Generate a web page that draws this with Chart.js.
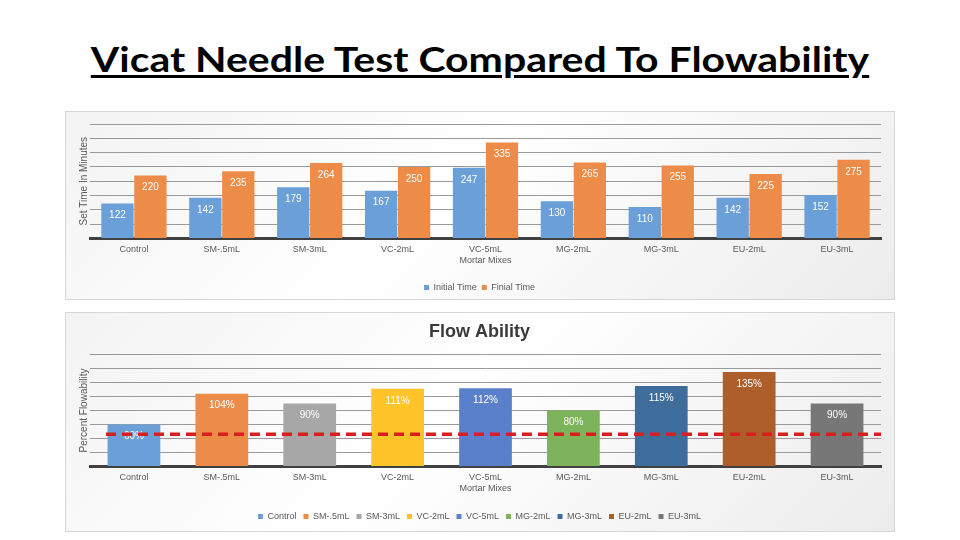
<!DOCTYPE html>
<html>
<head>
<meta charset="utf-8">
<script src="https://cdn.jsdelivr.net/npm/chart.js@4/dist/chart.umd.min.js"></script>
<style>
  body { margin: 0; width: 960px; height: 540px; background: #fff; position: relative; overflow: hidden; }
  h1 {
    position: absolute; left: 0; width: 960px; top: 38px; margin: 0;
    text-align: center; font: bold 35px Lato, "Open Sans", sans-serif; line-height: 40px;
    text-decoration: underline; text-decoration-thickness: 3px; text-underline-offset: 3px; color: #000;
    transform: scaleX(1.17);
  }
  .box {
    position: absolute; left: 65px; width: 828px;
    border: 1px solid #d6d6d6;
    background: linear-gradient(135deg, #f3f3f3 0%, #ffffff 45%, #ececec 100%);
  }
  #top { top: 111px; height: 187px; }
  #bottom { top: 312px; height: 218px; }
</style>
</head>
<body>
<h1>Vicat Needle Test Compared To Flowability</h1>
<div class="box" id="top"><canvas id="setChart" width="828" height="187"></canvas></div>
<div class="box" id="bottom"><canvas id="flowChart" width="828" height="218"></canvas></div>
<script>
const mixes = ['Control', 'SM-.5mL', 'SM-3mL', 'VC-2mL', 'VC-5mL', 'MG-2mL', 'MG-3mL', 'EU-2mL', 'EU-3mL'];
const initialTime = [122, 142, 179, 167, 247, 130, 110, 142, 152];
const finalTime = [220, 235, 264, 250, 335, 265, 255, 225, 275];
const flowPercent = [60, 104, 90, 111, 112, 80, 115, 135, 90];
const flowColors = ['#6a9fd8', '#ed8b48', '#a7a7a7', '#ffc42a', '#5b80cb', '#7db35a', '#3e6d9c', '#ae5e2b', '#777777'];
const thresholdValue = 46;

const tickFont = { family: 'Liberation Sans', size: 9 };
const textGray = '#595959';

// white value labels inside the top of each bar
const barLabels = {
  id: 'barLabels',
  afterDatasetsDraw (chart, args, opts) {
    const ctx = chart.ctx;
    ctx.save();
    ctx.fillStyle = '#fff';
    ctx.font = '10px "Liberation Sans"';
    ctx.textAlign = 'center';
    ctx.textBaseline = 'top';
    chart.data.datasets.forEach((ds, i) => {
      chart.getDatasetMeta(i).data.forEach((bar, j) => {
        ctx.fillText(ds.data[j] + (opts.suffix || ''), bar.x, bar.y + 7);
      });
    });
    ctx.restore();
  }
};

// red dashed reference line across the plot
const refLine = {
  id: 'refLine',
  afterDatasetsDraw (chart) {
    const { ctx, chartArea } = chart;
    const y = chart.scales.y.getPixelForValue(thresholdValue);
    ctx.save();
    ctx.strokeStyle = '#d91e1e';
    ctx.lineWidth = 3.5;
    ctx.setLineDash([10, 6]);
    ctx.beginPath();
    ctx.moveTo(chartArea.left + 16, y);
    ctx.lineTo(chartArea.right, y);
    ctx.stroke();
    ctx.restore();
  }
};

const commonScales = (max, step, yTitle, titlePad) => ({
  x: {
    grid: { display: false, drawTicks: false },
    border: { display: true, color: '#404040', width: 3 },
    ticks: { color: textGray, font: tickFont, padding: 6, maxRotation: 0 },
    title: { display: true, text: 'Mortar Mixes', color: textGray, font: tickFont, padding: titlePad }
  },
  y: {
    min: 0, max: max,
    ticks: { display: false, stepSize: step },
    grid: { color: '#9a9a9a', lineWidth: 1, drawTicks: false },
    border: { display: false },
    title: { display: true, text: yTitle, color: textGray, font: { family: 'Liberation Sans', size: 10 }, padding: 0 }
  }
});

new Chart(document.getElementById('setChart'), {
  type: 'bar',
  data: {
    labels: mixes,
    datasets: [
      { label: 'Initial Time', data: initialTime, backgroundColor: '#6a9fd8' },
      { label: 'Finial Time', data: finalTime, backgroundColor: '#ed8b48' }
    ]
  },
  options: {
    responsive: false,
    animation: false,
    categoryPercentage: 0.75,
    barPercentage: 0.98,
    layout: { padding: { left: 12, right: 13, top: 12, bottom: -3 } },
    scales: commonScales(400, 50, 'Set Time In Minutes', { top: -6, bottom: 12 }),
    plugins: {
      legend: {
        position: 'bottom',
        labels: { boxWidth: 5, boxHeight: 5, color: textGray, font: tickFont, padding: 5 }
      },
      tooltip: { enabled: false },
      barLabels: {}
    }
  },
  plugins: [barLabels]
});

new Chart(document.getElementById('flowChart'), {
  type: 'bar',
  data: {
    labels: mixes,
    datasets: [
      { label: 'Flow Ability', data: flowPercent, backgroundColor: flowColors }
    ]
  },
  options: {
    responsive: false,
    animation: false,
    categoryPercentage: 0.6,
    barPercentage: 1,
    layout: { padding: { left: 12, right: 13, top: 0, bottom: 0 } },
    scales: commonScales(160, 20, 'Percent Flowability', { top: -6, bottom: 11 }),
    plugins: {
      title: {
        display: true, text: 'Flow Ability', color: '#3a3a3a',
        font: { family: 'Liberation Sans', size: 18, weight: 'bold' },
        padding: { top: 8, bottom: 12 }
      },
      legend: {
        position: 'bottom',
        labels: {
          boxWidth: 5, boxHeight: 5, color: textGray, font: tickFont, padding: 7,
          generateLabels: (chart) => mixes.map((m, i) => ({
            text: m, fillStyle: flowColors[i], strokeStyle: flowColors[i], lineWidth: 0, fontColor: textGray, index: i
          }))
        }
      },
      tooltip: { enabled: false },
      barLabels: { suffix: '%' }
    }
  },
  plugins: [barLabels, refLine]
});
</script>
</body>
</html>
